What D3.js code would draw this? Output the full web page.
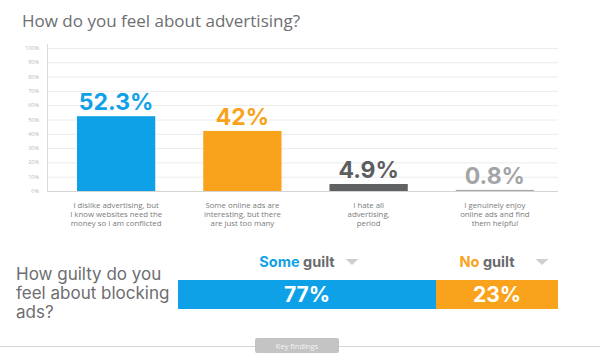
<!DOCTYPE html>
<html>
<head>
<meta charset="utf-8">
<script src="https://cdn.jsdelivr.net/npm/d3@7/dist/d3.min.js"></script>
<style>
  body { margin: 0; background: #fff; }
  svg { display: block; }
</style>
</head>
<body>
<script>
// chart data
var categories = [
  ['I dislike advertising, but', 'I know websites need the', 'money so I am conflicted'],
  ['Some online ads are', 'interesting, but there', 'are just too many'],
  ['I hate all', 'advertising,', 'period'],
  ['I genuinely enjoy', 'online ads and find', 'them helpful']
];
var values = [52.3, 42, 4.9, 0.8];
var valueLabels = ['52.3%', '42%', '4.9%', '0.8%'];
var barColors = ['#0ea1e8', '#f9a21b', '#606163', '#a9aaac'];
var labelColors = ['#0ea1e8', '#f9a21b', '#5c5d5f', '#a3a4a6'];
var yTicks = [0, 10, 20, 30, 40, 50, 60, 70, 80, 90, 100];

var guiltGroups = ['Some', 'No'];
var guiltValues = [77, 23];
var guiltColors = ['#0ea1e8', '#f9a21b'];

var W = 600, H = 360;
var grey = '#6d6e71';

var svg = d3.select('body').append('svg')
  .attr('width', W)
  .attr('height', H);

// title
svg.append('text')
  .attr('x', 22)
  .attr('y', 27)
  .style('font-family', 'Open Sans')
  .style('font-size', '17px')
  .style('fill', grey)
  .text('How do you feel about advertising?');

// --- top column chart ---
var x = d3.scaleBand()
  .domain(d3.range(values.length))
  .range([53, 558])
  .paddingInner(0.38)
  .paddingOuter(0.19);

var y = d3.scaleLinear()
  .domain([0, 100])
  .range([191, 48]);

var g = svg.append('g');

g.selectAll('line.grid').data(yTicks.slice(1)).enter().append('line')
  .attr('class', 'grid')
  .attr('x1', 47).attr('x2', 558)
  .attr('y1', function(d) { return y(d) + 0.5; })
  .attr('y2', function(d) { return y(d) + 0.5; })
  .style('stroke', '#ececec');

g.selectAll('text.tick').data(yTicks).enter().append('text')
  .attr('class', 'tick')
  .attr('x', 39)
  .attr('y', function(d) { return y(d) + 2; })
  .attr('text-anchor', 'end')
  .style('font-family', 'Open Sans')
  .style('font-size', '5.5px')
  .style('fill', '#b9b9b9')
  .text(function(d) { return d + '%'; });

// axis lines
g.append('line')
  .attr('x1', 47.5).attr('x2', 47.5)
  .attr('y1', 44).attr('y2', y(0))
  .style('stroke', '#dcdcdc');
g.append('line')
  .attr('x1', 47).attr('x2', 558)
  .attr('y1', y(0) + 0.5).attr('y2', y(0) + 0.5)
  .style('stroke', '#d4d4d4');

g.selectAll('rect.bar').data(values).enter().append('rect')
  .attr('class', 'bar')
  .attr('x', function(d, i) { return x(i); })
  .attr('y', function(d) { return y(d); })
  .attr('width', x.bandwidth())
  .attr('height', function(d) { return y(0) - y(d); })
  .style('fill', function(d, i) { return barColors[i]; });

g.selectAll('text.val').data(values).enter().append('text')
  .attr('class', 'val')
  .attr('x', function(d, i) { return x(i) + x.bandwidth() / 2; })
  .attr('y', function(d) { return y(d) - 6; })
  .attr('text-anchor', 'middle')
  .style('font-family', 'Inter')
  .style('font-weight', 700)
  .style('font-size', '23px')
  .style('fill', function(d, i) { return labelColors[i]; })
  .text(function(d, i) { return valueLabels[i]; });

var cat = g.selectAll('text.cat').data(categories).enter().append('text')
  .attr('class', 'cat')
  .attr('text-anchor', 'middle')
  .style('font-family', 'Open Sans')
  .style('font-size', '7.8px')
  .style('fill', '#7a7b7d');
cat.selectAll('tspan').data(function(d, i) {
    return d.map(function(s) { return { s: s, i: i }; });
  }).enter().append('tspan')
  .attr('x', function(d) { return x(d.i) + x.bandwidth() / 2; })
  .attr('y', function(d, j) { return 208 + j * 9.2; })
  .text(function(d) { return d.s; });

// --- bottom guilt bar ---
svg.append('text')
  .style('font-family', 'Inter')
  .style('font-size', '17px')
  .style('fill', grey)
  .selectAll('tspan')
  .data(['How guilty do you', 'feel about blocking', 'ads?'])
  .enter().append('tspan')
  .attr('x', 16)
  .attr('y', function(d, i) { return 280 + i * 19; })
  .text(function(d) { return d; });

// piecewise scale: the graphic draws the split at its own position
var gx = d3.scaleLinear()
  .domain([0, guiltValues[0], 100])
  .range([178, 436, 558]);

var starts = [0, guiltValues[0]];
var segs = svg.append('g').selectAll('g').data(guiltValues).enter().append('g');

segs.append('rect')
  .attr('x', function(d, i) { return gx(starts[i]); })
  .attr('y', 280)
  .attr('width', function(d, i) { return gx(starts[i] + d) - gx(starts[i]); })
  .attr('height', 29)
  .style('fill', function(d, i) { return guiltColors[i]; });

segs.append('text')
  .attr('x', function(d, i) { return (gx(starts[i]) + gx(starts[i] + d)) / 2; })
  .attr('y', 302)
  .attr('text-anchor', 'middle')
  .style('font-family', 'Inter')
  .style('font-weight', 700)
  .style('font-size', '21px')
  .style('fill', '#fff')
  .text(function(d) { return d + '%'; });

// headers above segments
var head = segs.append('text')
  .attr('x', function(d, i) { return (gx(starts[i]) + gx(starts[i] + d)) / 2 - 10; })
  .attr('y', 267)
  .attr('text-anchor', 'middle')
  .style('font-family', 'Inter')
  .style('font-weight', 700)
  .style('font-size', '14.5px');
head.append('tspan')
  .style('fill', function(d, i) { return guiltColors[i]; })
  .text(function(d, i) { return guiltGroups[i]; });
head.append('tspan')
  .style('fill', '#6a6b6d')
  .text(' guilt');

segs.append('path')
  .attr('d', function(d, i) {
    var cx = (gx(starts[i]) + gx(starts[i] + d)) / 2 + 45;
    return 'M' + (cx - 6.5) + ',259L' + (cx + 6.5) + ',259L' + cx + ',265Z';
  })
  .style('fill', '#cfcfd0');

// footer rule with tab
svg.append('line')
  .attr('x1', 0).attr('x2', W)
  .attr('y1', 346.5).attr('y2', 346.5)
  .style('stroke', '#d6d6d6');
svg.append('rect')
  .attr('x', 255).attr('y', 338)
  .attr('width', 84).attr('height', 15)
  .attr('rx', 2)
  .style('fill', '#c4c4c4');
svg.append('text')
  .attr('x', 297).attr('y', 348.5)
  .attr('text-anchor', 'middle')
  .style('font-family', 'Open Sans')
  .style('font-size', '7.5px')
  .style('fill', '#f4f4f4')
  .text('Key findings');
</script>
</body>
</html>
